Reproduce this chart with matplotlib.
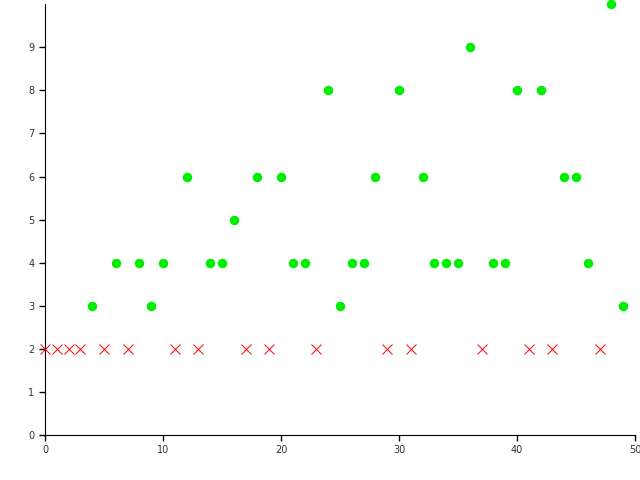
import numpy as np
import matplotlib
matplotlib.use("Agg")
import matplotlib.pyplot as plt

# value per index; 2 is drawn as a red cross, anything above as a green dot
values = [2, 2, 2, 2, 3, 2, 4, 2, 4, 3,
          4, 2, 6, 2, 4, 4, 5, 2, 6, 2,
          6, 4, 4, 2, 8, 3, 4, 4, 6, 2,
          8, 2, 6, 4, 4, 4, 9, 2, 4, 4,
          8, 2, 8, 2, 6, 6, 4, 2, 10, 3]

x = np.arange(len(values))
y = np.array(values)
hit = y > 2

fig = plt.figure(figsize=(6.4, 4.8), dpi=100)
ax = fig.add_axes([0.0703, 0.094, 0.922, 0.897])

ax.plot(x[hit], y[hit], linestyle="none", marker="o", markersize=5.8,
        color="#00ee00", markeredgecolor="#00ee00", clip_on=False, zorder=3)
ax.plot(x[~hit], y[~hit], linestyle="none", marker="x", markersize=6.5,
        markeredgewidth=0.7, color="red", clip_on=False, zorder=3)

ax.set_xlim(0, 50)
ax.set_ylim(0, 10)
ax.set_xticks([0, 10, 20, 30, 40, 50])
ax.set_yticks(range(0, 10))
ax.tick_params(labelsize=7, length=4, width=1, direction="out", labelcolor="#333333")
for side in ("top", "right"):
    ax.spines[side].set_visible(False)

fig.savefig("out.png", dpi=100)
